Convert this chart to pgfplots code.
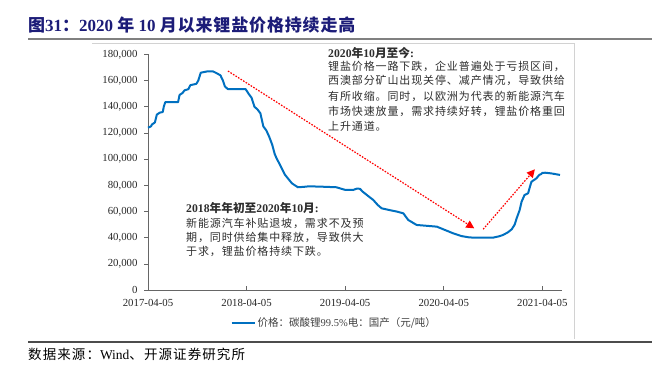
\documentclass[border=0pt]{standalone}
\usepackage{pgfplots}
\pgfplotsset{compat=1.18}
\usepackage{fontspec}
\setmainfont{Liberation Serif}
\newfontfamily\cjk{Noto Sans CJK SC}
\newfontfamily\cjkann[LetterSpace=8]{Noto Sans CJK SC}
\newfontfamily\cjktitle[LetterSpace=5]{Noto Sans CJK SC}
\usetikzlibrary{arrows.meta}
\definecolor{lineblue}{RGB}{0,112,192}
\definecolor{navy}{RGB}{28,28,120}
\definecolor{txtgray}{RGB}{45,45,45}
\begin{document}
\begin{tikzpicture}[x=1bp,y=1bp]
\path[use as bounding box] (0,0) rectangle (672,369);
% title
\node[anchor=west, text=navy, inner sep=0] at (28,344)
 {\fontsize{17bp}{19bp}\selectfont\bfseries{\cjktitle 图}31{\cjktitle ：}2020 {\cjktitle 年} 10 {\cjktitle 月以来锂盐价格持续走高}};
\draw[gray, line width=1.6bp] (28,330) -- (652,330);
\draw[gray!35, line width=0.8bp] (92,325.7) -- (574,325.7) -- (574,30);
\draw[black!70, line width=1.2bp] (28,27) -- (652,27);
\node[anchor=west, inner sep=0] at (28,15)
 {\fontsize{13.5bp}{15bp}\selectfont{\cjkann 数据来源：}Wind{\cjkann 、开源证券研究所}};

\begin{axis}[
  at={(148bp,79bp)}, anchor=south west,
  scale only axis, width=414bp, height=235.6bp,
  xmin=0, xmax=4.2, ymin=0, ymax=180000,
  axis lines*=left,
  axis line style={black!60, line width=0.8bp},
  xtick={0,1,2,3,4},
  xticklabels={2017-04-05,2018-04-05,2019-04-05,2020-04-05,2021-04-05},
  ytick={0,20000,40000,60000,80000,100000,120000,140000,160000,180000},
  scaled y ticks=false,
  yticklabel style={xshift=-3bp, /pgf/number format/.cd,fixed,1000 sep={,}},
  /pgf/number format/assume math mode=true,
  tick label style={font=\fontsize{10.8bp}{12bp}\selectfont, text=black!85},
  xticklabel style={yshift=-6bp},
  xtick align=inside, ytick align=outside,
  major tick length=4bp,
  tick style={black!60, line width=0.6bp},
  clip=false,
  legend style={at={(0.45,-0.14)}, anchor=center, draw=none, fill=none,
    font=\fontsize{10.5bp}{12bp}\selectfont, text=black!75},
  legend image code/.code={\draw[#1, line width=2bp] (0bp,0bp) -- (23bp,0bp);},
]
\addplot[lineblue, line width=2bp, line join=round] coordinates {
(0,124000)(0.03,125000)(0.04,126500)(0.07,128000)(0.09,134000)(0.12,135500)(0.15,136000)(0.16,140000)(0.175,143500)(0.305,143500)(0.32,149000)(0.35,150500)(0.37,152500)(0.41,153500)(0.43,156500)(0.49,157500)(0.51,160000)(0.535,166000)(0.60,167000)(0.66,167000)(0.70,165500)(0.735,164000)(0.76,160000)(0.78,155500)(0.81,153500)(0.99,153500)(1.02,150000)(1.05,147000)(1.08,140000)(1.11,138000)(1.14,135000)(1.17,125000)(1.20,122000)(1.23,117000)(1.26,111000)(1.285,104000)(1.305,100500)(1.34,95500)(1.39,88000)(1.46,81500)(1.52,78500)(1.58,78800)(1.63,79200)(1.74,79000)(1.91,78500)(2.00,76500)(2.08,76400)(2.12,77500)(2.15,77300)(2.18,75000)(2.23,72000)(2.285,68800)(2.33,65000)(2.37,62400)(2.454,61000)(2.52,60000)(2.59,58600)(2.64,53500)(2.725,49700)(2.93,48400)(2.995,46400)(3.096,43300)(3.18,41200)(3.25,40300)(3.30,40000)(3.50,40000)(3.56,41000)(3.60,42000)(3.65,44000)(3.69,46400)(3.72,50000)(3.74,54800)(3.77,61000)(3.79,67500)(3.82,72600)(3.856,73900)(3.875,79000)(3.89,82700)(3.94,85300)(3.97,88000)(3.99,88600)(4.00,89500)(4.03,89600)(4.09,89100)(4.18,87900)
};
\addlegendentry{{\cjk 价格：碳酸锂}99.5\%{\cjk 电：国产（元/吨）}}
\draw[red, line width=1.2bp, dash pattern=on 1.6bp off 1.4bp, -{Triangle[length=8bp,width=8bp]}]
  (axis cs:0.811,167300) -- (axis cs:3.31,47100);
\draw[red, line width=1.2bp, dash pattern=on 1.6bp off 1.4bp, -{Triangle[length=8bp,width=8bp]}]
  (axis cs:3.40,46400) -- (axis cs:3.925,92200);
\end{axis}

% annotation top-right
\begin{scope}[every node/.style={anchor=west, inner sep=0, text=txtgray, font=\fontsize{11bp}{13bp}\selectfont}]
\node[font=\fontsize{11.7bp}{13bp}\selectfont] at (328,316) {\bfseries 2020{\cjk 年}10{\cjk 月至今}:};
\node at (328,303) {\cjkann 锂盐价格一路下跌，企业普遍处于亏损区间，};
\node at (328,288.3) {\cjkann 西澳部分矿山出现关停、减产情况，导致供给};
\node at (328,273) {\cjkann 有所收缩。同时，以欧洲为代表的新能源汽车};
\node at (328,258) {\cjkann 市场快速放量，需求持续好转，锂盐价格重回};
\node at (328,243) {\cjkann 上升通道。};
% annotation bottom-left
\node[font=\fontsize{11.7bp}{13bp}\selectfont] at (186,160.7) {\bfseries 2018{\cjk 年年初至}2020{\cjk 年}10{\cjk 月}:};
\node at (186,145.7) {\cjkann 新能源汽车补贴退坡，需求不及预};
\node at (186,131.7) {\cjkann 期，同时供给集中释放，导致供大};
\node at (186,117.3) {\cjkann 于求，锂盐价格持续下跌。};
\end{scope}
\end{tikzpicture}
\end{document}
